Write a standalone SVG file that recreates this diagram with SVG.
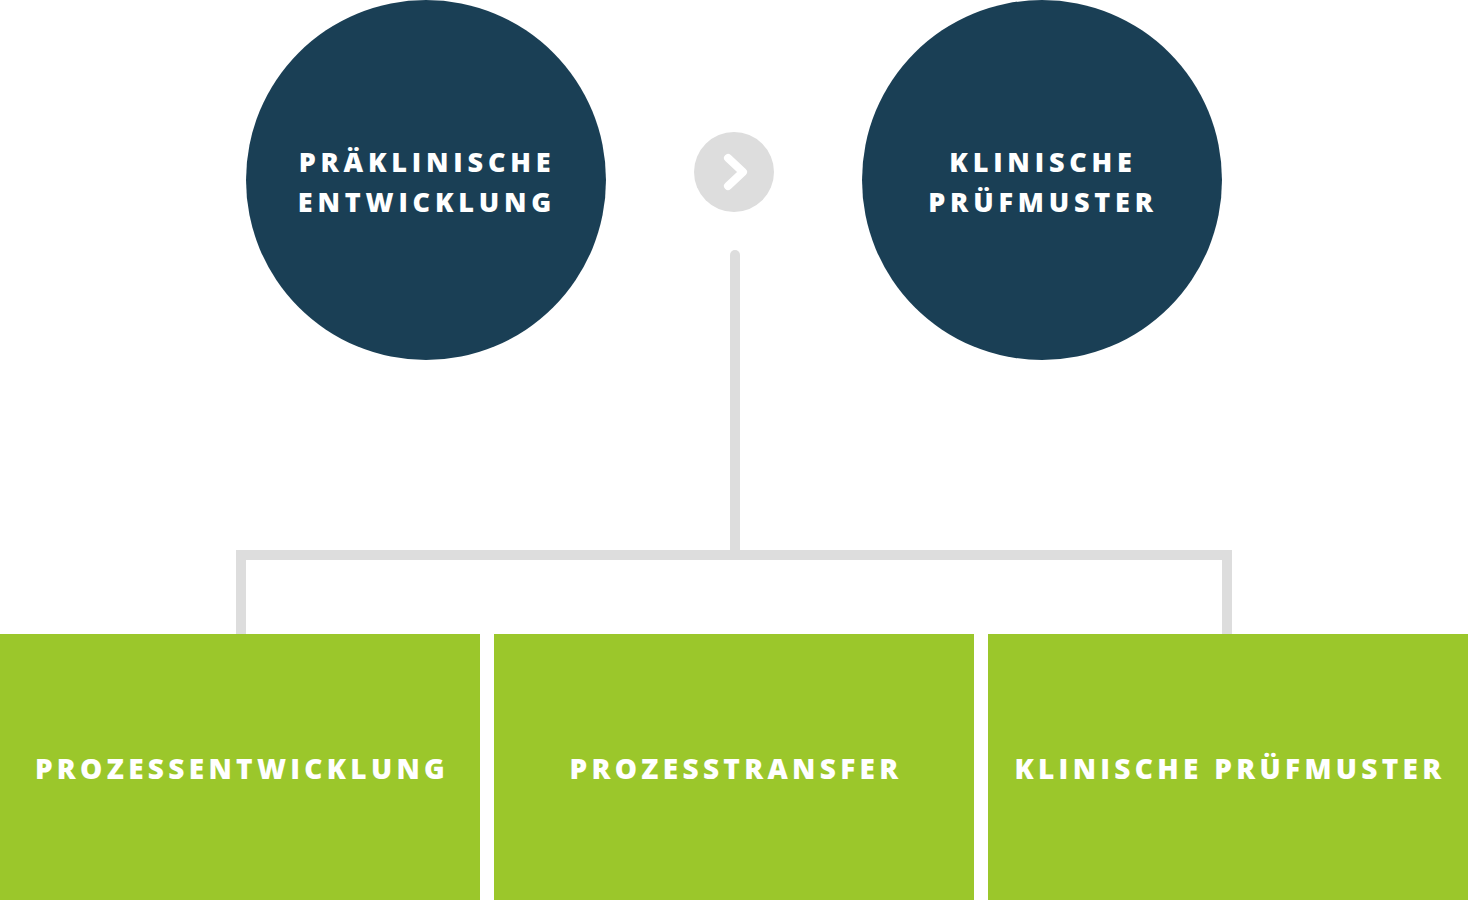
<svg xmlns="http://www.w3.org/2000/svg" width="1468" height="900" viewBox="0 0 1468 900">
<style>
.dark{fill:#1a3f55}
.green{fill:#9bc72b}
.ct{font-family:"Open Sans","Liberation Sans",sans-serif;font-weight:800;font-size:27px;letter-spacing:4.8px;fill:#ffffff;text-anchor:middle}
.bt{font-family:"Open Sans","Liberation Sans",sans-serif;font-weight:800;font-size:28px;letter-spacing:4.3px;fill:#ffffff;text-anchor:middle}
.conn{fill:none;stroke:#dddddd;stroke-width:10}
</style>
<rect width="1468" height="900" fill="#ffffff"/>
<g id="connectors">
<path class="conn" d="M735,255 V555" stroke-linecap="round"/>
<path class="conn" d="M241,634 V555 H1227 V634"/>
</g>
<g id="arrow">
<circle cx="734" cy="172" r="40" fill="#dddddd"/>
<polyline points="728,158 743,172 728,186" fill="none" stroke="#ffffff" stroke-width="8" stroke-linecap="round" stroke-linejoin="round"/>
</g>
<g id="node-praeklinisch">
<circle class="dark" cx="426" cy="180" r="180"/>
<text class="ct" x="427" y="172">PRÄKLINISCHE</text>
<text class="ct" x="427" y="212">ENTWICKLUNG</text>
</g>
<g id="node-klinisch">
<circle class="dark" cx="1042" cy="180" r="180"/>
<text class="ct" x="1043" y="172">KLINISCHE</text>
<text class="ct" x="1043" y="212">PRÜFMUSTER</text>
</g>
<g id="box-prozessentwicklung">
<rect class="green" x="0" y="634" width="480" height="266"/>
<text class="bt" x="242" y="779">PROZESSENTWICKLUNG</text>
</g>
<g id="box-prozesstransfer">
<rect class="green" x="494" y="634" width="480" height="266"/>
<text class="bt" x="736" y="779">PROZESSTRANSFER</text>
</g>
<g id="box-klinische-pruefmuster">
<rect class="green" x="988" y="634" width="480" height="266"/>
<text class="bt" x="1230" y="779">KLINISCHE PRÜFMUSTER</text>
</g>
</svg>
